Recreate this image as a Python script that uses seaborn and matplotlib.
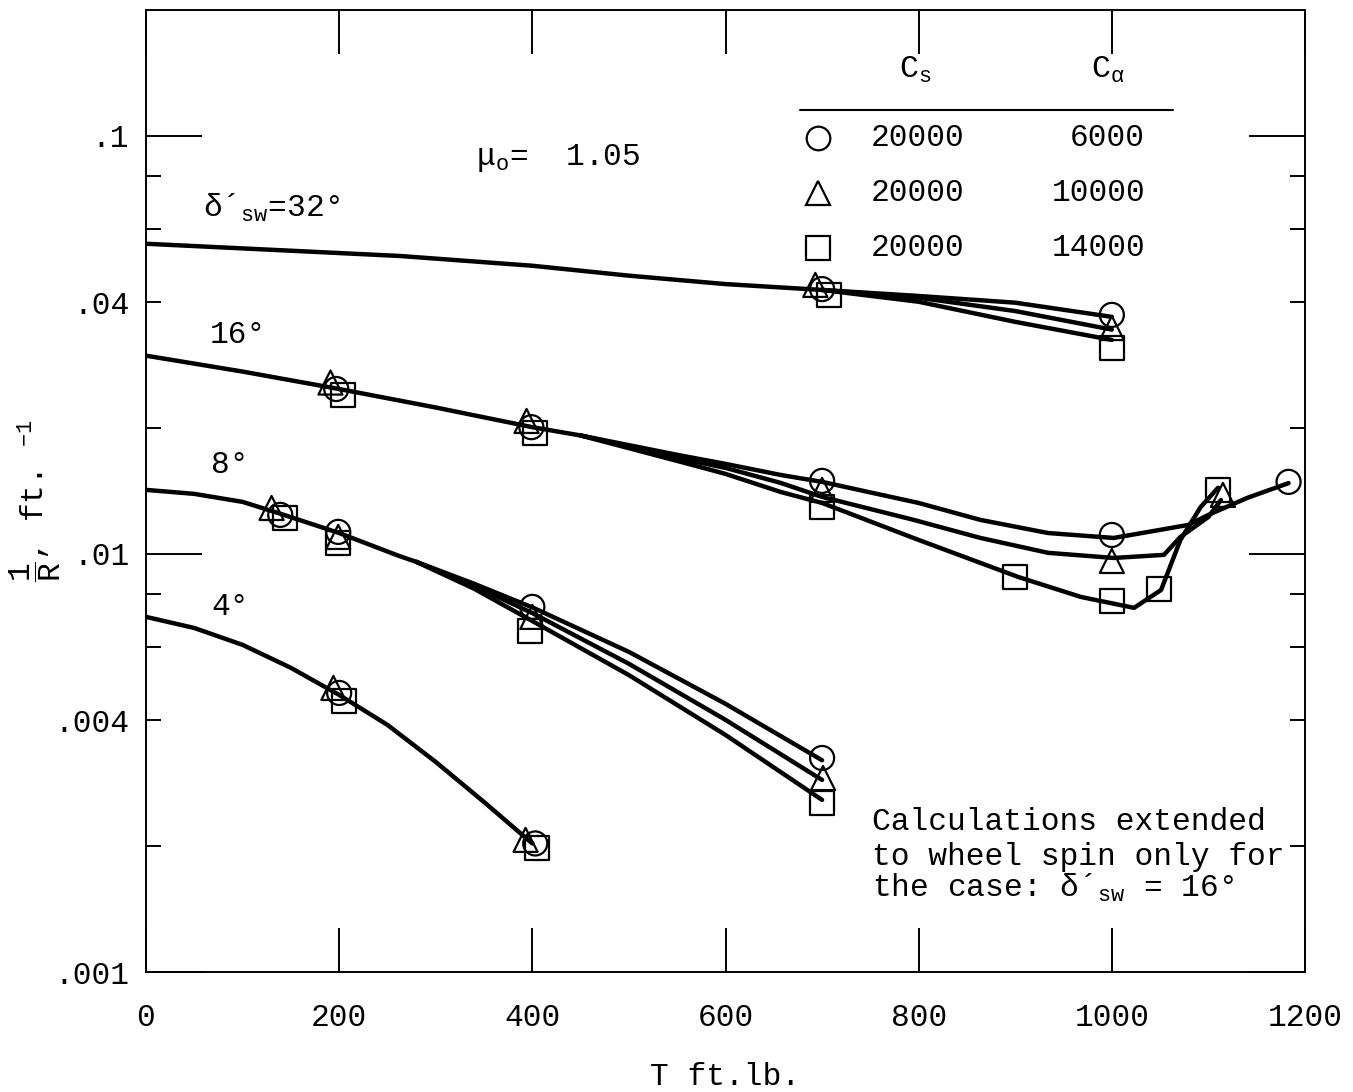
import numpy as np
import pandas as pd
import matplotlib
matplotlib.use("Agg")
import matplotlib.pyplot as plt
import seaborn as sns
from matplotlib.ticker import FixedLocator, FixedFormatter

W, H = 1353, 1092

# curvature 1/R vs. torque T, one block per steering angle delta_sw
# 32 deg
T_32 = [0, 263, 400, 500, 600, 700]
R_32 = [0.0552, 0.0516, 0.0489, 0.0463, 0.0442, 0.0428]
T_32_end = [700, 800, 900, 1000]
R_32_c = [0.0428, 0.0414, 0.0399, 0.0369]
R_32_t = [0.0428, 0.0410, 0.0381, 0.0344]
R_32_s = [0.0428, 0.0401, 0.0359, 0.0325]

# 16 deg (extended to wheel spin)
T_16 = [0, 100, 200, 300, 400, 450]
R_16 = [0.0298, 0.0273, 0.0248, 0.0224, 0.0201, 0.0192]
T_16_c = [450, 550, 600, 657, 700, 800, 864, 934, 1002, 1079, 1100, 1140, 1183]
R_16_c = [0.0192, 0.01726, 0.01642, 0.01545, 0.01487, 0.01324, 0.01206, 0.01122,
          0.01092, 0.01173, 0.01240, 0.01361, 0.01477]
T_16_t = [450, 550, 600, 657, 700, 795, 864, 934, 1002, 1054, 1071, 1100, 1113]
R_16_t = [0.0192, 0.01697, 0.01606, 0.01479, 0.01369, 0.01206, 0.01092, 0.01006,
          0.00978, 0.00995, 0.01098, 0.01226, 0.01346]
T_16_s = [450, 550, 600, 657, 700, 800, 903, 968, 1023, 1051, 1071, 1092, 1110]
R_16_s = [0.0192, 0.01669, 0.01554, 0.01407, 0.01324, 0.01080, 0.00881, 0.00789,
          0.00743, 0.00820, 0.01080, 0.01295, 0.01440]

# 8 deg
T_8 = [0, 50, 100, 140, 200, 262, 280]
R_8 = [0.01423, 0.01392, 0.01332, 0.01246, 0.01122, 0.00989, 0.00957]
T_8_end = [280, 340, 400, 500, 600, 700]
R_8_c = [0.00957, 0.00848, 0.00745, 0.00583, 0.00438, 0.00321]
R_8_t = [0.00957, 0.00838, 0.00722, 0.00546, 0.00401, 0.00288]
R_8_s = [0.00957, 0.00825, 0.00691, 0.00513, 0.00369, 0.00258]

# 4 deg
T_4 = [0, 50, 100, 150, 200, 250, 300, 350, 400]
R_4 = [0.00707, 0.00665, 0.00606, 0.00534, 0.00460, 0.00390, 0.00318, 0.00255, 0.00203]

# computed points, per C_alpha case
MARK_T_c = [700, 1000, 197, 399, 700, 1000, 1183, 139, 199, 400, 700, 200, 403]
MARK_R_c = [0.0430, 0.0373, 0.0248, 0.0201, 0.01495, 0.0111, 0.01487, 0.0124,
            0.01129, 0.00747, 0.00325, 0.00465, 0.00203]
MARK_T_t = [693, 1000, 191, 394, 700, 1000, 1115, 130, 199, 400, 701, 194, 393]
MARK_R_t = [0.0440, 0.0347, 0.0257, 0.0208, 0.01423, 0.00962, 0.01384, 0.01288,
            0.01098, 0.00707, 0.00291, 0.00478, 0.00207]
MARK_T_s = [707, 1000, 204, 403, 700, 900, 1000, 1049, 1110, 144, 199, 398, 700, 205, 405]
MARK_R_s = [0.0416, 0.0311, 0.0240, 0.0195, 0.01295, 0.00881, 0.00772, 0.00825,
            0.01423, 0.01219, 0.01062, 0.00655, 0.00254, 0.00445, 0.00198]

CASE_MARKERS = {"c": "o", "t": "^", "s": "s"}
C_S = ["20000", "20000", "20000"]
C_A = ["6000", "10000", "14000"]

XTICKS = [0, 200, 400, 600, 800, 1000, 1200]
XTICK_LABELS = ["0", "200", "400", "600", "800", "1000", "1200"]
Y_MAJOR = [0.001, 0.01, 0.1]
Y_MAJOR_LABELS = [".001", ".01", ".1"]
Y_MINOR = [0.002, 0.004, 0.006, 0.008, 0.02, 0.04, 0.06, 0.08]
Y_MINOR_LABELS = ["", ".004", "", "", "", ".04", "", ""]

FONT = ["Liberation Mono", "DejaVu Sans"]
FS = 22.5


def build_frames():
    pieces = [
        ("32", T_32, R_32), ("32c", T_32_end, R_32_c), ("32t", T_32_end, R_32_t),
        ("32s", T_32_end, R_32_s),
        ("16", T_16, R_16), ("16c", T_16_c, R_16_c), ("16t", T_16_t, R_16_t),
        ("16s", T_16_s, R_16_s),
        ("8", T_8, R_8), ("8c", T_8_end, R_8_c), ("8t", T_8_end, R_8_t),
        ("8s", T_8_end, R_8_s),
        ("4", T_4, R_4),
    ]
    curves = pd.concat([pd.DataFrame({"T": t, "R": r, "curve": name})
                        for name, t, r in pieces], ignore_index=True)
    marks = pd.concat([
        pd.DataFrame({"T": MARK_T_c, "R": MARK_R_c, "case": "c"}),
        pd.DataFrame({"T": MARK_T_t, "R": MARK_R_t, "case": "t"}),
        pd.DataFrame({"T": MARK_T_s, "R": MARK_R_s, "case": "s"}),
    ], ignore_index=True)
    return curves, marks


def fig_xy(px, py):
    return px / W, 1 - py / H


def main():
    sns.set_theme(style="white")
    plt.rcParams["font.family"] = FONT
    plt.rcParams["mathtext.fontset"] = "custom"
    plt.rcParams["mathtext.rm"] = "Liberation Mono"
    plt.rcParams["mathtext.it"] = "Liberation Mono:italic"
    plt.rcParams["mathtext.bf"] = "Liberation Mono:bold"
    plt.rcParams["mathtext.default"] = "rm"

    curves, marks = build_frames()

    fig = plt.figure(figsize=(W / 100, H / 100), dpi=100)
    ax = fig.add_axes([146 / W, 1 - 972 / H, 1159 / W, 962 / H])
    ax.set_yscale("log")

    sns.lineplot(data=curves, x="T", y="R", units="curve", estimator=None,
                 color="black", linewidth=3.2, legend=False, ax=ax)
    sns.scatterplot(data=marks, x="T", y="R", style="case", markers=CASE_MARKERS,
                    s=300, color="black", linewidth=1.6, legend=False, ax=ax, zorder=3)
    for coll in ax.collections:
        coll.set_facecolor("none")
        coll.set_edgecolor("black")

    ax.set_xlim(0, 1200)
    ax.set_ylim(0.001, 0.2)

    ax.xaxis.set_major_locator(FixedLocator(XTICKS))
    ax.xaxis.set_major_formatter(FixedFormatter(XTICK_LABELS))
    ax.yaxis.set_major_locator(FixedLocator(Y_MAJOR))
    ax.yaxis.set_major_formatter(FixedFormatter(Y_MAJOR_LABELS))
    ax.yaxis.set_minor_locator(FixedLocator(Y_MINOR))
    ax.yaxis.set_minor_formatter(FixedFormatter(Y_MINOR_LABELS))

    ax.tick_params(axis="x", which="major", direction="in", length=32, width=1.4,
                   bottom=True, top=True, pad=22, labelsize=FS, colors="black")
    ax.tick_params(axis="y", which="major", direction="in", length=40, width=1.4,
                   left=True, right=True, pad=12, labelsize=FS, colors="black")
    ax.tick_params(axis="y", which="minor", direction="in", length=11, width=1.4,
                   left=True, right=True, pad=12, labelsize=FS, colors="black")
    ax.tick_params(axis="x", which="minor", bottom=False, top=False)

    for sp in ax.spines.values():
        sp.set_visible(True)
        sp.set_color("black")
        sp.set_linewidth(1.4)

    ax.set_xlabel("T ft.lb.", fontsize=FS, color="black")
    ax.xaxis.set_label_coords(0.5, -0.094)
    ax.set_ylabel(r"$\dfrac{1}{\mathrm{R}}$, ft. $^{-1}$", fontsize=FS, color="black")
    ax.yaxis.set_label_coords(-0.072, 0.49)

    def put(px, py, s, ha="left", va="baseline"):
        x, y = fig_xy(px, py)
        fig.text(x, y, s, ha=ha, va=va, fontsize=FS, color="black", family=FONT)

    # curve labels
    put(203, 217, r"δ´$_{\mathrm{sw}}$=32°")
    put(210, 343, "16°")
    put(211, 473, "8°")
    put(211, 615, "4°")

    put(476, 165, r"μ$_{\mathrm{o}}$=  1.05")

    put(872, 830, "Calculations extended")
    put(872, 865, "to wheel spin only for")
    put(872, 897, r"the case: δ´$_{\mathrm{sw}}$ = 16°")

    # legend table
    put(899, 78, r"C$_{\mathrm{s}}$")
    put(1091, 78, r"C$_{α}$")
    x0, y0 = fig_xy(800, 110)
    x1, _ = fig_xy(1173, 110)
    fig.add_artist(plt.Line2D([x0, x1], [y0, y0], color="black", lw=1.5,
                              transform=fig.transFigure))
    for i, (mk, cs, ca) in enumerate(zip(["o", "^", "s"], C_S, C_A)):
        py = 138 + 55 * i
        mx, my = fig_xy(818, py)
        fig.add_artist(plt.Line2D([mx], [my], marker=mk, markersize=17,
                                  markerfacecolor="none", markeredgecolor="black",
                                  markeredgewidth=1.6, linestyle="none",
                                  transform=fig.transFigure))
        put(918, py, cs, ha="center", va="center")
        put(1145, py, ca, ha="right", va="center")

    fig.savefig("out.png", dpi=100, facecolor="white")


if __name__ == "__main__":
    main()
